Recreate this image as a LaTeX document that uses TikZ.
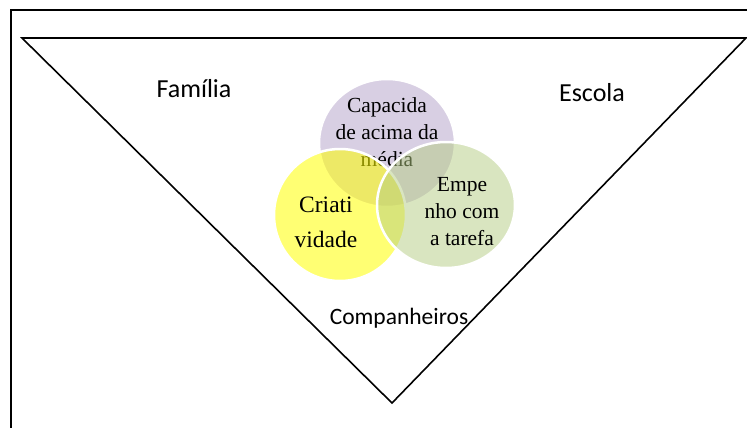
\documentclass[tikz,border=0pt]{standalone}
\usepackage{fontspec}
\setmainfont{Liberation Serif}
\newfontfamily\calibri{Carlito}
\usetikzlibrary{shapes.geometric}

\begin{document}
\begin{tikzpicture}[x=1pt,y=-1pt]
\tikzset{ring/.style = {shape=ellipse,draw=white,line width=2.5pt,fill opacity=0.5,inner sep=0pt}}
\tikzset{place/.style = {font=\calibri\fontsize{26}{30}\selectfont}}
\tikzset{inner/.style = {align=center,font=\fontsize{21.5}{27}\selectfont}}
\useasboundingbox (0,0) rectangle (747,428);
\clip (0,0) rectangle (747,428);
% frame and triangle
\draw[line width=1.3pt] (11,10) rectangle (800,500);
\coordinate (tl) at (22,38);
\coordinate (tr) at (746,38);
\coordinate (ap) at (392,403);
\draw[line width=1.6pt,line join=miter] (tl) -- (tr) -- (ap) -- cycle;
% the three circles, each followed by its text
\node[ring,fill={rgb,255:red,178;green,160;blue,200},minimum width=136pt,minimum height=128pt](cap) at (387,143) {};
\node[inner](cap-t) at (387,132) {Capacida\\de acima da\\média};
\node[ring,fill={rgb,255:red,255;green,255;blue,0},fill opacity=0.55,minimum width=132pt,minimum height=132pt](cri) at (340,215) {};
\node[inner,font=\fontsize{23.5}{35}\selectfont](cri-t) at (326,222) {Criati\\vidade};
\node[ring,fill={rgb,255:red,180;green,204;blue,130},minimum width=138pt,minimum height=126pt](emp) at (446,205) {};
\node[inner](emp-t) at (462,212) {Empe\\nho com\\a tarefa};
% labels
\node[place](fam) at (194,89) {Família};
\node[place](esc) at (592,93) {Escola};
\node[place,font=\calibri\fontsize{23.5}{28}\selectfont](com) at (399,318) {Companheiros};
\end{tikzpicture}
\end{document}
